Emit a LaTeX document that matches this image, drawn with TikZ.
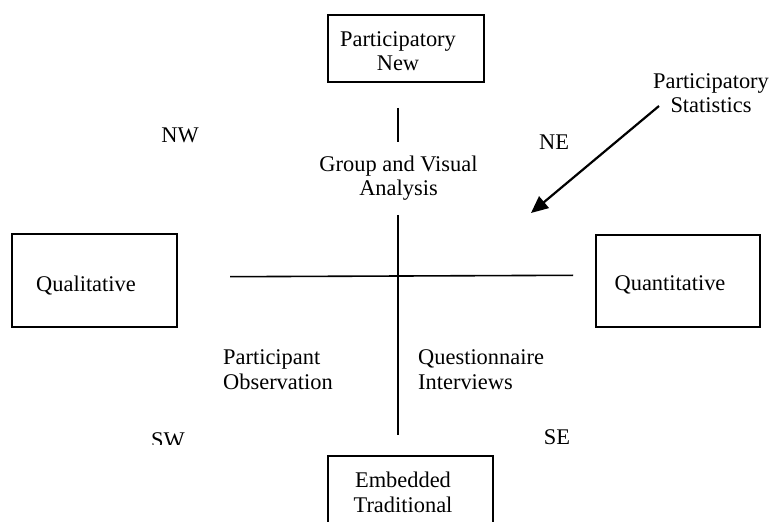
\documentclass[tikz,border=0pt]{standalone}
\usepackage{fontspec}
\setmainfont{Liberation Serif}
\usetikzlibrary{arrows.meta}
\tikzset{
  lbl/.style={inner sep=0pt, anchor=base, font=\fontsize{22.5}{25}\selectfont, align=center},
  lbll/.style={lbl, align=left},
  boxr/.style={draw, line width=1.6bp, inner sep=0pt},
  axis/.style={line width=1.6bp},
  arr/.style={line width=2.2bp, -{Triangle[length=17bp,width=15bp]}}
}
\begin{document}
\begin{tikzpicture}[x=1bp,y=-1bp]
\clip (0,0) rectangle (775,522);
% boxes
\node[boxr, minimum width=156bp, minimum height=67bp] (top) at (406,48.5) {};
\node[boxr, minimum width=165bp, minimum height=100bp] (bot) at (410.5,506) {};
\node[boxr, minimum width=165bp, minimum height=93bp] (qual) at (94.5,280.5) {};
\node[boxr, minimum width=164bp, minimum height=92bp] (quan) at (678,281) {};
% box texts (base anchor = baseline of last line)
\node[lbl] (toptxt) at (398,71) {Participatory\\New};
\node[lbl] (bottxt) at (403,512) {Embedded\\Traditional};
\node[lbl] (qualtxt) at (86,292) {Qualitative};
\node[lbl] (quantxt) at (670,291) {Quantitative};
% axes
\coordinate (vA) at (397.7,108);
\coordinate (vB) at (397.7,142);
\coordinate (vC) at (397.7,215);
\coordinate (vD) at (397.7,435);
\coordinate (hL) at (230,276.7);
\coordinate (hR) at (573,275.3);
\draw[axis] (vA) -- (vB);
\draw[axis] (vC) -- (vD);
\draw[axis] (hL) -- (hR);
% labels
\node[lbl] (gva) at (398.5,196) {Group and Visual\\Analysis};
\node[lbl] (nw) at (180,143) {NW};
\node[lbl] (ne) at (554,150) {NE};
\node[lbl] (se) at (557,444) {SE};
\begin{scope}
  \clip (100,400) rectangle (250,444.5);
  \node[lbl] (sw) at (168,447) {SW};
\end{scope}
\node[lbl] (pstat) at (711,113) {Participatory\\Statistics};
\node[lbll, anchor=base west] (pobs) at (223,389) {Participant\\Observation};
\node[lbll, anchor=base west] (qint) at (418,389) {Questionnaire\\Interviews};
% arrow
\coordinate (arrS) at (659,106);
\coordinate (arrE) at (531,213);
\draw[arr] (arrS) -- (arrE);
\end{tikzpicture}
\end{document}
